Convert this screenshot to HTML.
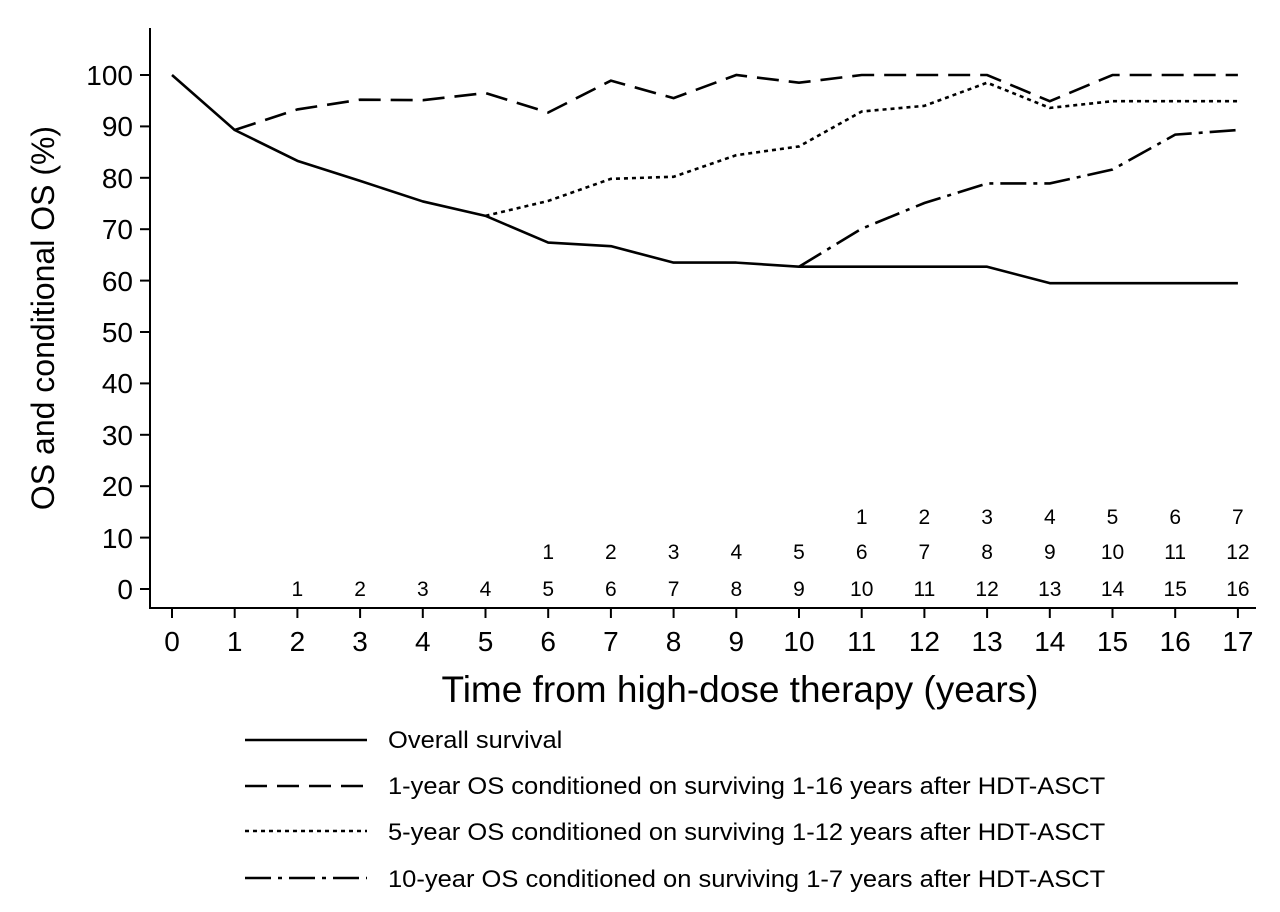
<!DOCTYPE html>
<html><head><meta charset="utf-8"><style>
html,body{margin:0;padding:0;background:#fff;}
svg{display:block;font-family:"Liberation Sans",sans-serif;}
</style></head><body>
<svg width="1280" height="912" viewBox="0 0 1280 912" xmlns="http://www.w3.org/2000/svg">
<rect width="1280" height="912" fill="#fff"/>
<line x1="150" y1="28" x2="150" y2="609" stroke="#000" stroke-width="2"/>
<line x1="149" y1="608" x2="1256" y2="608" stroke="#000" stroke-width="2"/>
<g stroke="#000" stroke-width="2">
<line x1="140" y1="75" x2="150" y2="75"/><line x1="140" y1="126.4" x2="150" y2="126.4"/>
<line x1="140" y1="177.8" x2="150" y2="177.8"/><line x1="140" y1="229.2" x2="150" y2="229.2"/>
<line x1="140" y1="280.6" x2="150" y2="280.6"/><line x1="140" y1="332" x2="150" y2="332"/>
<line x1="140" y1="383.4" x2="150" y2="383.4"/><line x1="140" y1="434.8" x2="150" y2="434.8"/>
<line x1="140" y1="486.2" x2="150" y2="486.2"/><line x1="140" y1="537.6" x2="150" y2="537.6"/>
<line x1="140" y1="589" x2="150" y2="589"/>
</g>
<g stroke="#000" stroke-width="2" id="xt"></g>
<g font-size="28" text-anchor="end" fill="#000">
<text x="133" y="85">100</text><text x="133" y="136">90</text><text x="133" y="188">80</text>
<text x="133" y="239">70</text><text x="133" y="291">60</text><text x="133" y="342">50</text>
<text x="133" y="393">40</text><text x="133" y="445">30</text><text x="133" y="496">20</text>
<text x="133" y="548">10</text><text x="133" y="599">0</text>
</g>
<text transform="translate(54,318) rotate(-90)" font-size="32" text-anchor="middle">OS and conditional OS (%)</text>
<g font-size="28" text-anchor="middle" id="xl"></g>
<text x="740" y="702" font-size="37" text-anchor="middle">Time from high-dose therapy (years)</text>
<g font-size="21" text-anchor="middle" id="nums"></g>
<g fill="none" stroke="#000" stroke-width="2.6">
<polyline id="os" stroke-linejoin="round"/>
<polyline id="s1" stroke-dasharray="22,10"/>
<polyline id="s5" stroke-dasharray="4,4"/>
<polyline id="s10" stroke-dasharray="26,7,4,7"/>
</g>
<g stroke="#000" stroke-width="2.6">
<line x1="245" y1="740" x2="367" y2="740"/>
<line x1="245" y1="786" x2="367" y2="786" stroke-dasharray="22,10"/>
<line x1="245" y1="831" x2="367" y2="831" stroke-dasharray="4,4"/>
<line x1="245" y1="878" x2="367" y2="878" stroke-dasharray="26,7,4,7"/>
</g>
<g font-size="23.7" transform="translate(388,0) scale(1.077,1) translate(-388,0)">
<text x="388" y="748">Overall survival</text>
<text x="388" y="794">1-year OS conditioned on surviving 1-16 years after HDT-ASCT</text>
<text x="388" y="840">5-year OS conditioned on surviving 1-12 years after HDT-ASCT</text>
<text x="388" y="887">10-year OS conditioned on surviving 1-7 years after HDT-ASCT</text>
</g>
<script>
var X=function(t){return 172+t*62.7},Y=function(v){return 589-v*5.14};
var ns="http://www.w3.org/2000/svg";
function pts(start,arr){return arr.map(function(v,i){return X(start+i)+","+Y(v)}).join(" ")}
document.getElementById("os").setAttribute("points",pts(0,[100,89.3,83.3,79.4,75.4,72.6,67.4,66.7,63.5,63.5,62.7,62.7,62.7,62.7,59.5,59.5,59.5,59.5]));
document.getElementById("s1").setAttribute("points",pts(1,[89.3,93.3,95.2,95.1,96.5,92.7,98.9,95.5,100,98.5,100,100,100,94.9,100,100,100]));
document.getElementById("s5").setAttribute("points",pts(5,[72.6,75.5,79.8,80.2,84.4,86.1,92.9,94.0,98.5,93.6,94.9,94.9,94.9]));
document.getElementById("s10").setAttribute("points",pts(10,[62.7,70.1,75.1,78.9,78.9,81.6,88.4,89.3]));
var xt=document.getElementById("xt"),xl=document.getElementById("xl"),nu=document.getElementById("nums");
function add(p,tag,a,txt){var e=document.createElementNS(ns,tag);for(var k in a)e.setAttribute(k,a[k]);if(txt!==undefined)e.textContent=txt;p.appendChild(e);}
for(var t=0;t<=17;t++){add(xt,"line",{x1:X(t),y1:608,x2:X(t),y2:618});add(xl,"text",{x:X(t),y:651},t);}
for(var t=11;t<=17;t++)add(nu,"text",{x:X(t),y:524},t-10);
for(var t=6;t<=17;t++)add(nu,"text",{x:X(t),y:559},t-5);
for(var t=2;t<=17;t++)add(nu,"text",{x:X(t),y:596},t-1);
</script>
</svg>
</body></html>
